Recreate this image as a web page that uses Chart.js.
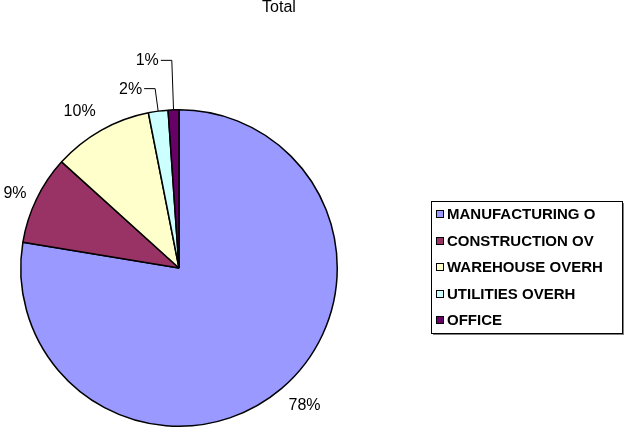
<!DOCTYPE html>
<html>
<head>
<meta charset="utf-8">
<script src="https://cdn.jsdelivr.net/npm/chart.js@4/dist/chart.umd.min.js"></script>
<style>
html,body{margin:0;padding:0;background:#fff;}
#wrap{position:relative;width:624px;height:430px;}
</style>
</head>
<body>
<div id="wrap"><canvas id="c" width="624" height="430"></canvas></div>
<script>
const chartTitle = 'Total';
const categories = ['MANUFACTURING O', 'CONSTRUCTION OV', 'WAREHOUSE OVERH', 'UTILITIES OVERH', 'OFFICE'];
const values = [77.6, 9.1, 10.2, 2.0, 1.1];
const colors = ['#9999FF', '#993366', '#FFFFCC', '#CCFFFF', '#660066'];
const leaderRise = [0, 0, 0, 23, 50];

const FONT = '"Liberation Sans", Arial, sans-serif';

const decorPlugin = {
  id: 'decor',
  afterDatasetsDraw(chart) {
    const ctx = chart.ctx;
    const meta = chart.getDatasetMeta(0);
    const total = values.reduce((a, b) => a + b, 0);
    ctx.save();
    ctx.font = '16px ' + FONT;
    ctx.fillStyle = '#000';
    ctx.strokeStyle = '#000';
    ctx.lineWidth = 1;
    meta.data.forEach((arc, i) => {
      const p = arc.getProps(['x', 'y', 'startAngle', 'endAngle', 'outerRadius'], true);
      const mid = (p.startAngle + p.endAngle) / 2;
      const c = Math.cos(mid), s = Math.sin(mid);
      const ex = p.x + c * p.outerRadius, ey = p.y + s * p.outerRadius;
      const txt = Math.round(values[i] / total * 100) + '%';
      if (leaderRise[i] > 0) {
        const len = leaderRise[i] / Math.abs(s);
        const kx = ex + c * len, ky = ey - leaderRise[i];
        ctx.beginPath();
        ctx.moveTo(ex, ey);
        ctx.lineTo(kx, ky + 0.5);
        ctx.lineTo(kx - 11, ky + 0.5);
        ctx.stroke();
        ctx.textAlign = 'right';
        ctx.textBaseline = 'middle';
        ctx.fillText(txt, kx - 13, ky + 1);
      } else {
        const ax = ex + c * 11, ay = ey + s * 12;
        ctx.textAlign = c > 0.3 ? 'left' : (c < -0.3 ? 'right' : 'center');
        ctx.textBaseline = s > 0.5 ? 'top' : (s < -0.5 ? 'bottom' : 'middle');
        ctx.fillText(txt, ax, ay);
      }
    });
    // title
    ctx.textAlign = 'center';
    ctx.textBaseline = 'top';
    ctx.font = '16px ' + FONT;
    ctx.fillText(chartTitle, 279, 0);
    // legend
    const lx = 431, ly = 201, lw = 191, lh = 132;
    ctx.fillStyle = '#808080';
    ctx.fillRect(lx + 2, ly + lh, lw, 2);
    ctx.fillRect(lx + lw, ly + 2, 2, lh);
    ctx.fillStyle = '#fff';
    ctx.fillRect(lx, ly, lw, lh);
    ctx.strokeStyle = '#000';
    ctx.lineWidth = 1;
    ctx.strokeRect(lx + 0.5, ly + 0.5, lw, lh);
    ctx.font = 'bold 15px ' + FONT;
    ctx.textAlign = 'left';
    ctx.textBaseline = 'middle';
    categories.forEach((name, i) => {
      const yy = 214 + i * 26.5;
      ctx.fillStyle = colors[i];
      ctx.fillRect(436, Math.round(yy) - 4, 8, 8);
      ctx.strokeRect(436.5, Math.round(yy) - 3.5, 7, 7);
      ctx.fillStyle = '#000';
      ctx.fillText(name, 447, yy + 1);
    });
    ctx.restore();
  }
};

new Chart(document.getElementById('c'), {
  type: 'pie',
  data: {
    labels: categories,
    datasets: [{
      data: values,
      backgroundColor: colors,
      borderColor: '#000',
      borderWidth: 1.5,
      borderAlign: 'center'
    }]
  },
  options: {
    responsive: false,
    animation: false,
    layout: { padding: { left: 20, top: 109, right: 286, bottom: 3 } },
    plugins: {
      legend: { display: false },
      tooltip: { enabled: false },
      title: { display: false }
    }
  },
  plugins: [decorPlugin]
});
</script>
</body>
</html>
